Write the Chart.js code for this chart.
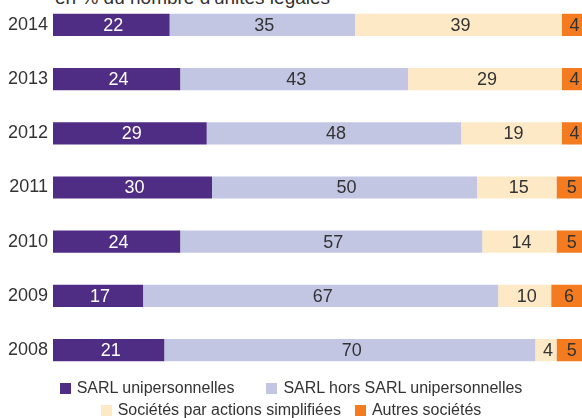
<!DOCTYPE html>
<html lang="fr">
  <head>
    <meta charset="UTF-8" />
    <title>Unités légales par forme juridique</title>
    <script src="https://cdn.jsdelivr.net/npm/chart.js@4"></script>
    <style>
      body {
        margin: 0;
        width: 582px;
        height: 418px;
        overflow: hidden;
        position: relative;
        background: #ffffff;
        color: #333333;
      }
      .title {
        position: absolute;
        left: 55px;
        top: -12px;
        font: 19px "Liberation Sans", Arial, sans-serif;
        line-height: 19px;
        white-space: nowrap;
      }
      /* taller than the visible plot: the y axis keeps half a label of padding top and bottom */
      .chart-box {
        position: absolute;
        left: 0;
        top: -18px;
        width: 583px;
        height: 411px;
      }
      .legend-row {
        position: absolute;
        left: 0;
        width: 582px;
        display: flex;
        justify-content: center;
        font: 16px "Liberation Sans Narrow", "Arial Narrow", sans-serif;
        line-height: 20px;
        white-space: nowrap;
      }
      .legend-item {
        display: flex;
        align-items: center;
      }
      .legend-item span.box {
        width: 11px;
        height: 11px;
        margin-right: 6px;
      }
    </style>
  </head>

  <body>
    <div class="title">en % du nombre d'unités légales</div>
    <div class="chart-box"><canvas id="chart"></canvas></div>
    <div class="legend-row" id="row1" style="top: 378px; gap: 32px"></div>
    <div class="legend-row" id="row2" style="top: 400px; gap: 14px"></div>

    <script>
      const years = ["2014", "2013", "2012", "2011", "2010", "2009", "2008"];
      const sarlUni = [22, 24, 29, 30, 24, 17, 21];
      const sarlHors = [35, 43, 48, 50, 57, 67, 70];
      const sas = [39, 29, 19, 15, 14, 10, 4];
      const autres = [4, 4, 4, 5, 5, 6, 5];

      const seriesNames = [
        "SARL unipersonnelles",
        "SARL hors SARL unipersonnelles",
        "Sociétés par actions simplifiées",
        "Autres sociétés",
      ];
      const seriesColors = ["#4f2d84", "#c2c6e3", "#fde9c6", "#f47b20"];
      const labelColors = ["#ffffff", "#333333", "#333333", "#333333"];

      const narrow = '"Liberation Sans Narrow", "Arial Narrow", sans-serif';

      // value labels in the middle of each segment
      const segmentLabels = {
        id: "segmentLabels",
        afterDatasetsDraw(chart) {
          const ctx = chart.ctx;
          ctx.save();
          ctx.font = "18px " + narrow;
          ctx.textAlign = "center";
          ctx.textBaseline = "middle";
          chart.data.datasets.forEach((ds, i) => {
            const meta = chart.getDatasetMeta(i);
            meta.data.forEach((bar, j) => {
              ctx.fillStyle = labelColors[i];
              ctx.fillText(String(ds.data[j]), (bar.x + bar.base) / 2 + 2, bar.y + 1);
            });
          });
          ctx.restore();
        },
      };

      const datasets = [sarlUni, sarlHors, sas, autres].map((values, i) => ({
        label: seriesNames[i],
        data: values,
        backgroundColor: seriesColors[i],
        borderWidth: 0,
        barPercentage: 0.41,
        categoryPercentage: 1,
      }));

      new Chart(document.getElementById("chart"), {
        type: "bar",
        data: { labels: years, datasets: datasets },
        options: {
          indexAxis: "y",
          responsive: true,
          maintainAspectRatio: false,
          animation: false,
          layout: { padding: 0 },
          plugins: {
            legend: { display: false },
            tooltip: { enabled: false },
          },
          scales: {
            x: {
              stacked: true,
              min: 0,
              max: 100,
              display: false,
            },
            y: {
              stacked: true,
              grid: { display: false, drawTicks: false },
              border: { display: false },
              ticks: {
                padding: 5,
                color: "#333333",
                font: { size: 18, family: narrow },
              },
              afterFit(scale) {
                scale.width = 53;
              },
            },
          },
        },
        plugins: [segmentLabels],
      });

      // legend in two rows, as in the original figure
      function addItem(rowId, i) {
        const item = document.createElement("div");
        item.className = "legend-item";
        const box = document.createElement("span");
        box.className = "box";
        box.style.background = seriesColors[i];
        item.appendChild(box);
        item.appendChild(document.createTextNode(seriesNames[i]));
        document.getElementById(rowId).appendChild(item);
      }
      addItem("row1", 0);
      addItem("row1", 1);
      addItem("row2", 2);
      addItem("row2", 3);
    </script>
  </body>
</html>
